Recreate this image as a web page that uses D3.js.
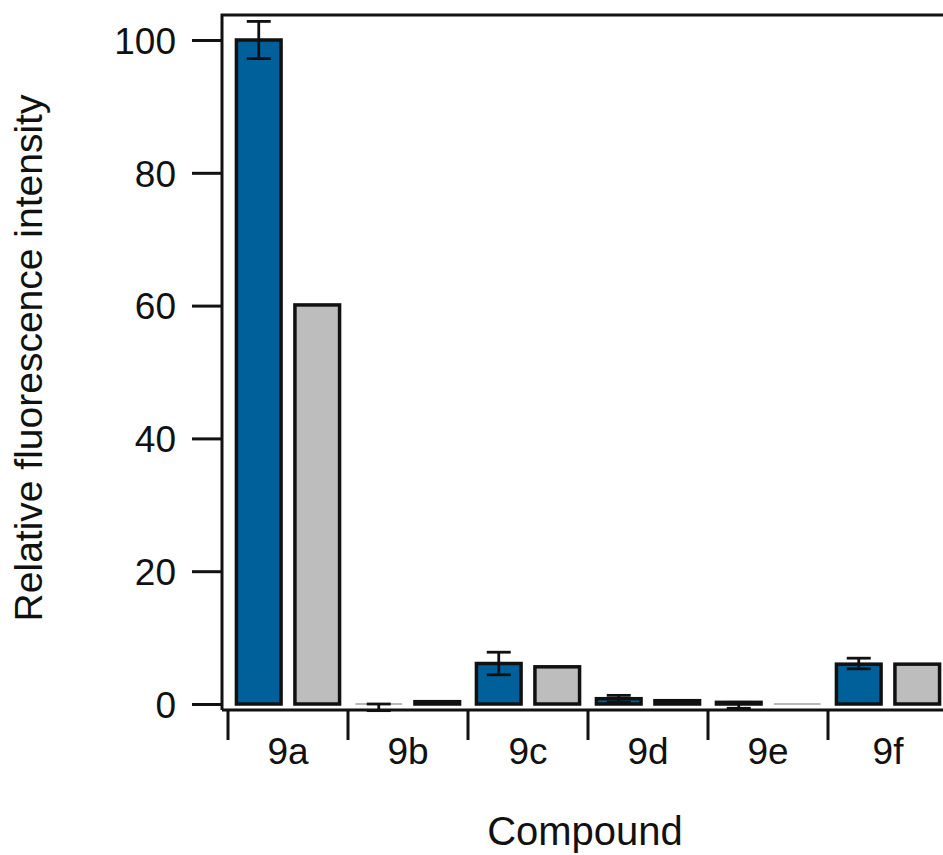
<!DOCTYPE html>
<html>
<head>
<meta charset="utf-8">
<script src="https://cdn.jsdelivr.net/npm/d3@7"></script>
<style>
  body { margin: 0; background: #fff; }
  text { font-family: "Liberation Sans", Arial, sans-serif; fill: #111; }
</style>
</head>
<body>
<svg id="chart" width="943" height="855"></svg>
<script>
// values
var compounds = ["9a", "9b", "9c", "9d", "9e", "9f"];
var seriesNames = ["blue", "gray"];
var blueValues = [100, 0, 6.1, 0.8, 0.25, 6.0];
var blueErrHi = [2.8, 0, 1.7, 0.5, 0, 0.9];
var blueErrLo = [2.8, 1.0, 1.7, 0.5, 0.9, 0.7];
var grayValues = [60.1, 0.35, 5.6, 0.5, 0, 6.0];
var yTicks = [0, 20, 40, 60, 80, 100];

var svg = d3.select("#chart");

var y = d3.scaleLinear().domain([0, 100]).range([704, 40]);
var x = d3.scaleBand().domain(compounds).range([228, 948]);
var inner = d3.scaleBand().domain(seriesNames).range([0, x.bandwidth()])
    .paddingInner(0.237).paddingOuter(0.144);

var colors = { blue: "#00609a", gray: "#bdbdbd" };

// frame: left axis + top line (right side runs off the canvas)
svg.append("path")
    .attr("d", "M222,710V15H960")
    .attr("fill", "none")
    .attr("stroke", "#111")
    .attr("stroke-width", 3);

// y axis ticks + labels
var yAxis = d3.axisLeft(y).tickValues(yTicks).tickSize(30).tickPadding(16);
var gy = svg.append("g").attr("transform", "translate(222,0)").call(yAxis);
gy.select(".domain").remove();
gy.selectAll(".tick line").attr("stroke", "#111").attr("stroke-width", 3);
gy.selectAll(".tick text").style("font-size", "37px").attr("dy", "0.36em");

// x axis line and category boundary ticks
svg.append("line")
    .attr("x1", 222).attr("x2", 960)
    .attr("y1", 710).attr("y2", 710)
    .attr("stroke", "#111").attr("stroke-width", 3);

svg.selectAll(".xtick").data(compounds).enter().append("line")
    .attr("class", "xtick")
    .attr("x1", function (d) { return x(d); })
    .attr("x2", function (d) { return x(d); })
    .attr("y1", 710).attr("y2", 740)
    .attr("stroke", "#111").attr("stroke-width", 3);

svg.selectAll(".xlab").data(compounds).enter().append("text")
    .attr("class", "xlab")
    .attr("x", function (d) { return x(d) + x.bandwidth() / 2; })
    .attr("y", 764)
    .attr("text-anchor", "middle")
    .style("font-size", "37px")
    .text(function (d) { return d; });

// bars
var rows = [];
compounds.forEach(function (c, i) {
    rows.push({ c: c, s: "blue", v: blueValues[i], hi: blueErrHi[i], lo: blueErrLo[i] });
    rows.push({ c: c, s: "gray", v: grayValues[i], hi: 0, lo: 0 });
});

rows.forEach(function (r) {
    var bx = x(r.c) + inner(r.s);
    var bw = inner.bandwidth();
    if (Math.abs(r.v) < 0.15) {
        // practically zero: only a faint line at the baseline
        svg.append("line")
            .attr("x1", bx - 1).attr("x2", bx + bw + 1)
            .attr("y1", y(0)).attr("y2", y(0))
            .attr("stroke", "#b8b8b8").attr("stroke-width", 2);
    } else {
        svg.append("rect")
            .attr("x", bx)
            .attr("y", y(Math.max(0, r.v)))
            .attr("width", bw)
            .attr("height", Math.abs(y(r.v) - y(0)))
            .attr("fill", colors[r.s])
            .attr("stroke", "#111")
            .attr("stroke-width", 3.5);
    }
});

// error bars
rows.filter(function (r) { return r.hi > 0 || r.lo > 0; }).forEach(function (r) {
    var cx = x(r.c) + inner(r.s) + inner.bandwidth() / 2;
    var top = y(r.v + r.hi), bot = y(r.v - r.lo);
    var g = svg.append("g").attr("stroke", "#111").attr("stroke-width", 2.8);
    g.append("line").attr("x1", cx).attr("x2", cx).attr("y1", top).attr("y2", bot);
    g.append("line").attr("x1", cx - 12).attr("x2", cx + 12).attr("y1", top).attr("y2", top);
    g.append("line").attr("x1", cx - 12).attr("x2", cx + 12).attr("y1", bot).attr("y2", bot);
});

// axis titles
svg.append("text")
    .attr("x", 585).attr("y", 845)
    .attr("text-anchor", "middle")
    .style("font-size", "40px")
    .text("Compound");

svg.append("text")
    .attr("transform", "translate(42,358) rotate(-90)")
    .attr("text-anchor", "middle")
    .style("font-size", "39px")
    .text("Relative fluorescence intensity");
</script>
</body>
</html>
